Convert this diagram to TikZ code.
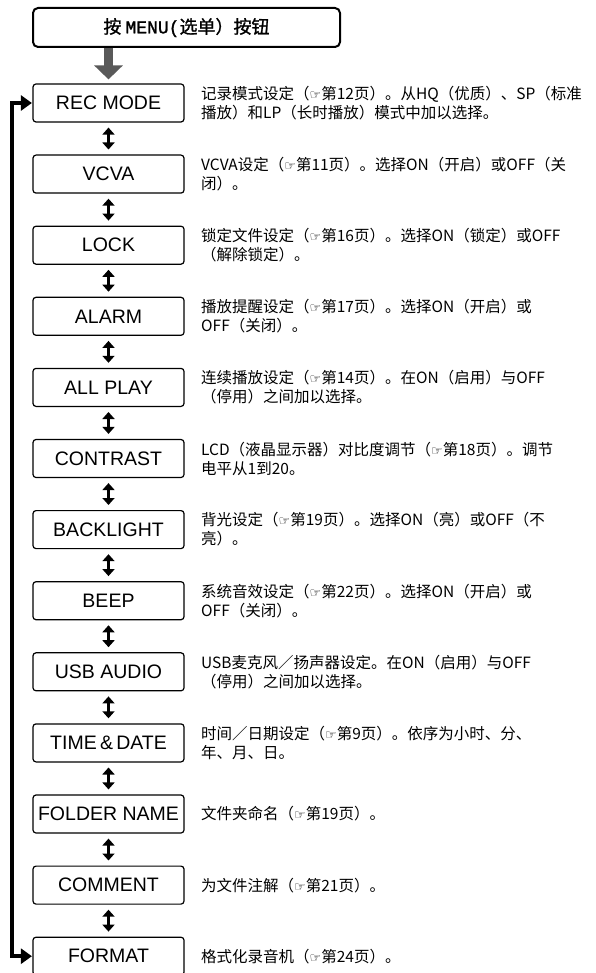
\documentclass[tikz,border=0pt]{standalone}
\usepackage{fontspec}
\setmainfont{Liberation Sans}
\newfontfamily\cjk{Noto Sans CJK SC}
\newfontfamily\cjkt[FakeBold=1.3]{Noto Sans CJK SC}
\newfontfamily\monot[FakeBold=1.3]{Liberation Mono}
\newfontfamily\symfont{DejaVu Sans}
\usetikzlibrary{arrows.meta}
\newcommand\pointhand{{\symfont\fontsize{13}{13}\selectfont ☞}}
\begin{document}
\begin{tikzpicture}[x=1pt,y=-1pt,
  menubox/.style={draw, line width=1.2pt, rounded corners=3pt, minimum width=151pt, minimum height=38pt, inner sep=0pt, font=\fontsize{19.5}{20}\selectfont},
  titlebox/.style={draw, line width=2pt, rounded corners=5pt, minimum width=307pt, minimum height=39pt, inner sep=0pt, font=\cjkt\fontsize{18}{20}\selectfont},
  desc/.style={anchor=west, align=left, inner sep=0pt, font=\cjk\fontsize{15.5}{19}\selectfont},
  dbl/.style={line width=3pt, {Triangle[width=12pt,length=7pt]}-{Triangle[width=12pt,length=7pt]}, shorten >=5pt, shorten <=5pt},
  grayarrow/.style={line width=9pt, draw=black!65, -{Triangle[width=28pt,length=14pt]}, shorten >=4pt},
  loopline/.style={line width=4pt, line join=miter, {Triangle[width=15pt,length=11pt]}-{Triangle[width=15pt,length=11pt]}, shorten >=0.5pt, shorten <=0.5pt}
]
\useasboundingbox (0,0) rectangle (595,973);

\node[titlebox] (title) at (186.5,27.5) {按 {\monot MENU(}选单）按钮\hspace{16pt}};

\node[menubox] (b0) at (108.5,103) {REC MODE};
\node[menubox] (b1) at (108.5,174.1) {VCVA};
\node[menubox] (b2) at (108.5,245.2) {LOCK};
\node[menubox] (b3) at (108.5,316.3) {ALARM};
\node[menubox] (b4) at (108.5,387.4) {ALL PLAY};
\node[menubox] (b5) at (108.5,458.5) {CONTRAST};
\node[menubox] (b6) at (108.5,529.6) {BACKLIGHT};
\node[menubox] (b7) at (108.5,600.7) {BEEP};
\node[menubox] (b8) at (108.5,671.8) {USB AUDIO};
\node[menubox] (b9) at (108.5,742.9) {TIME\,\&\,DATE};
\node[menubox] (b10) at (108.5,814) {FOLDER NAME};
\node[menubox] (b11) at (108.5,885.1) {COMMENT};
\node[menubox] (b12) at (108.5,956.2) {FORMAT};

\draw[grayarrow] (title.south -| b0.north) -- (b0.north);

\foreach \i [evaluate=\i as \j using int(\i+1)] in {0,...,11}
  \draw[dbl] (b\i.south) -- (b\j.north);

\coordinate (lt) at (12,103);
\coordinate (lb) at (12,956.2);
\draw[loopline] (b0.west) -- (lt) -- (lb) -- (b12.west);

\node[desc] (d0) at (201,103) {记录模式设定（\pointhand 第12页）。从HQ（优质）、SP（标准\\播放）和LP（长时播放）模式中加以选择。};
\node[desc] (d1) at (201,174.1) {VCVA设定（\pointhand 第11页）。选择ON（开启）或OFF（关\\闭）。};
\node[desc] (d2) at (201,245.2) {锁定文件设定（\pointhand 第16页）。选择ON（锁定）或OFF\\（解除锁定）。};
\node[desc] (d3) at (201,316.3) {播放提醒设定（\pointhand 第17页）。选择ON（开启）或\\OFF（关闭）。};
\node[desc] (d4) at (201,387.4) {连续播放设定（\pointhand 第14页）。在ON（启用）与OFF\\（停用）之间加以选择。};
\node[desc] (d5) at (201,458.5) {LCD（液晶显示器）对比度调节（\pointhand 第18页）。调节\\电平从1到20。};
\node[desc] (d6) at (201,529.6) {背光设定（\pointhand 第19页）。选择ON（亮）或OFF（不\\亮）。};
\node[desc] (d7) at (201,600.7) {系统音效设定（\pointhand 第22页）。选择ON（开启）或\\OFF（关闭）。};
\node[desc] (d8) at (201,671.8) {USB麦克风／扬声器设定。在ON（启用）与OFF\\（停用）之间加以选择。};
\node[desc] (d9) at (201,742.9) {时间／日期设定（\pointhand 第9页）。依序为小时、分、\\年、月、日。};
\node[desc] (d10) at (201,814) {文件夹命名（\pointhand 第19页）。};
\node[desc] (d11) at (201,885.1) {为文件注解（\pointhand 第21页）。};
\node[desc] (d12) at (201,956.2) {格式化录音机（\pointhand 第24页）。};
\end{tikzpicture}
\end{document}
